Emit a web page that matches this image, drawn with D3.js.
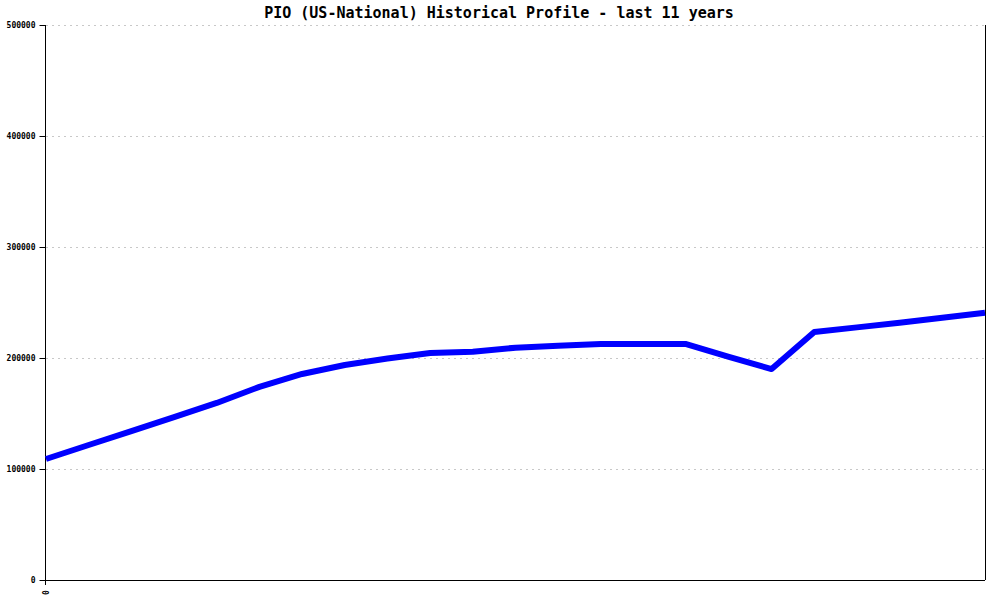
<!DOCTYPE html>
<html>
<head>
<meta charset="utf-8">
<script src="https://cdn.jsdelivr.net/npm/d3@7"></script>
<style>
  body { margin: 0; background: #fff; }
  svg { display: block; }
</style>
</head>
<body>
<svg id="chart" width="1000" height="600"></svg>
<script>
const title = "PIO (US-National) Historical Profile - last 11 years";
// half-year steps over the 11-year span
const periods = d3.range(0, 23);
const values = [109000, 121600, 134200, 146800, 159500, 174000, 185600, 193700,
                199500, 204500, 205700, 209300, 211000, 212600, 212600, 212600,
                201000, 190000, 223400, 227600, 231800, 236300, 240800];
const yTicks = [0, 100000, 200000, 300000, 400000, 500000];
const xTickLabels = ["0"];

const svg = d3.select("#chart");
const mLeft = 46, mRight = 985, mTop = 25, mBottom = 580;

const x = d3.scaleLinear().domain([0, 22]).range([mLeft, mRight]);
const y = d3.scaleLinear().domain([0, 500000]).range([mBottom, mTop]);

svg.append("rect").attr("width", 1000).attr("height", 600).attr("fill", "#fff");

// grid
svg.append("g")
  .selectAll("line")
  .data(yTicks.filter(d => d > 0))
  .join("line")
  .attr("x1", mLeft).attr("x2", mRight)
  .attr("y1", d => Math.round(y(d)) + 0.5).attr("y2", d => Math.round(y(d)) + 0.5)
  .attr("stroke", "#c8c8c8").attr("stroke-dasharray", "2,4");

// y axis
const yAxis = d3.axisLeft(y).tickValues(yTicks).tickSize(6).tickFormat(d3.format("d"));
const gy = svg.append("g").attr("transform", `translate(${mLeft - 0.5},0)`).call(yAxis);
gy.select(".domain").attr("d", `M0,${mTop}V${mBottom + 5}`).attr("stroke", "#000").attr("fill", "none");
gy.selectAll(".tick line").attr("stroke", "#000");
gy.selectAll(".tick text")
  .attr("font-family", "DejaVu Sans Mono, monospace")
  .attr("font-size", "8px").attr("font-weight", "bold").attr("fill", "#000")
  .attr("x", -10).attr("dy", "0.32em");

// x axis
const xAxis = d3.axisBottom(x).tickValues([0]).tickSize(0).tickFormat((d, i) => xTickLabels[i]);
const gx = svg.append("g").attr("transform", `translate(0,${mBottom + 0.5})`).call(xAxis);
gx.select(".domain").attr("d", `M${mLeft - 6},0H${mRight}`).attr("stroke", "#000").attr("fill", "none");
gx.selectAll(".tick text")
  .attr("font-family", "DejaVu Sans Mono, monospace")
  .attr("font-size", "8px").attr("font-weight", "bold").attr("fill", "#000")
  .attr("transform", "rotate(-90)")
  .attr("x", -12).attr("y", 0).attr("dy", "0.32em")
  .attr("text-anchor", "middle");

// right border
svg.append("line")
  .attr("x1", mRight + 0.5).attr("x2", mRight + 0.5)
  .attr("y1", mTop).attr("y2", mBottom)
  .attr("stroke", "#000");

// line
const line = d3.line().x((d, i) => x(periods[i])).y(d => y(d));
svg.append("path")
  .datum(values)
  .attr("d", line)
  .attr("fill", "none")
  .attr("stroke", "#0000ff")
  .attr("stroke-width", 6)
  .attr("stroke-linejoin", "round");

// title
svg.append("text")
  .attr("x", 499).attr("y", 18)
  .attr("text-anchor", "middle")
  .attr("font-family", "DejaVu Sans Mono, monospace")
  .attr("font-size", "15px")
  .attr("font-weight", "bold")
  .attr("fill", "#000")
  .text(title);
</script>
</body>
</html>
